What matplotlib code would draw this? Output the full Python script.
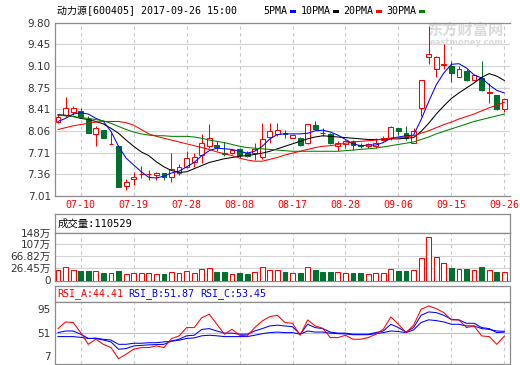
import matplotlib
matplotlib.use('Agg')
import matplotlib.pyplot as plt
from matplotlib.patches import Rectangle
import numpy as np

# ---------------- data ----------------
dates = ['07-05', '07-06', '07-07', '07-10', '07-11', '07-12', '07-13', '07-14', '07-17', '07-18',
         '07-19', '07-20', '07-21', '07-24', '07-25', '07-26', '07-27', '07-28', '07-31',
         '08-01', '08-02', '08-03', '08-04', '08-07', '08-08', '08-09', '08-10', '08-11', '08-14',
         '08-15', '08-16', '08-17', '08-18', '08-21', '08-22', '08-23', '08-24', '08-25', '08-28',
         '08-29', '08-30', '08-31', '09-01', '09-04', '09-05', '09-06', '09-07', '09-08', '09-11',
         '09-12', '09-13', '09-14', '09-15', '09-18', '09-19', '09-20', '09-21', '09-22', '09-25',
         '09-26']

opens = [8.20, 8.31, 8.36, 8.38, 8.25, 8.01, 8.07, 7.84, 7.82, 7.17,
         7.28, 7.36, 7.36, 7.35, 7.38, 7.32, 7.38, 7.48, 7.56, 7.67,
         7.81, 7.83, 7.70, 7.70, 7.76, 7.71, 7.71, 7.63, 7.96, 8.01,
         8.03, 7.95, 7.94, 7.86, 8.15, 8.03, 8.01, 7.81, 7.85, 7.89,
         7.83, 7.82, 7.82, 7.91, 7.94, 8.11, 8.02, 7.87, 8.43, 9.25,
         9.05, 9.12, 9.11, 8.93, 9.03, 8.88, 8.91, 8.67, 8.63, 8.41]
highs = [8.32, 8.60, 8.46, 8.43, 8.29, 8.13, 8.08, 8.02, 7.82, 7.28,
         7.40, 7.50, 7.43, 7.40, 7.38, 7.70, 7.53, 7.74, 7.70, 8.01,
         8.17, 7.90, 7.88, 7.77, 7.78, 7.73, 7.87, 8.19, 8.18, 8.18,
         8.08, 8.00, 7.96, 8.17, 8.21, 8.10, 8.02, 7.89, 7.91, 7.91,
         7.86, 7.87, 7.94, 7.98, 8.14, 8.11, 8.14, 8.10, 8.88, 9.74,
         9.27, 9.45, 9.19, 9.10, 9.05, 8.96, 9.18, 8.83, 8.64, 8.59]
lows = [8.18, 8.28, 8.32, 8.26, 8.02, 7.81, 7.94, 7.84, 7.15, 7.10,
        7.18, 7.30, 7.27, 7.27, 7.26, 7.24, 7.35, 7.46, 7.48, 7.54,
        7.78, 7.74, 7.65, 7.69, 7.62, 7.63, 7.59, 7.60, 7.86, 7.97,
        7.94, 7.94, 7.82, 7.85, 8.08, 7.97, 7.85, 7.73, 7.78, 7.75,
        7.78, 7.78, 7.78, 7.89, 7.91, 7.99, 7.91, 7.86, 8.29, 9.13,
        8.93, 9.05, 8.84, 8.92, 8.86, 8.87, 8.70, 8.51, 8.40, 8.37]
closes = [8.28, 8.43, 8.43, 8.28, 8.03, 8.10, 7.95, 7.85, 7.16, 7.23,
          7.32, 7.37, 7.37, 7.38, 7.32, 7.44, 7.47, 7.62, 7.63, 7.86,
          7.94, 7.80, 7.69, 7.75, 7.67, 7.65, 7.76, 7.93, 8.06, 8.07,
          8.01, 7.99, 7.83, 8.17, 8.09, 8.02, 7.86, 7.86, 7.89, 7.83,
          7.82, 7.85, 7.86, 7.94, 8.12, 8.06, 7.94, 8.05, 8.87, 9.29,
          9.25, 9.13, 8.99, 9.06, 8.88, 8.95, 8.71, 8.68, 8.41, 8.57]

ma5 = [8.21, 8.26, 8.33, 8.35, 8.33, 8.26, 8.21, 8.05, 7.81, 7.62,
       7.51, 7.40, 7.31, 7.30, 7.33, 7.38, 7.41, 7.48, 7.55, 7.66,
       7.74, 7.78, 7.77, 7.76, 7.73, 7.70, 7.73, 7.81, 7.93, 8.00,
       8.01, 8.01, 8.01, 8.02, 8.06, 8.07, 8.04, 7.99, 7.92, 7.85,
       7.82, 7.83, 7.83, 7.87, 7.94, 7.96, 7.98, 7.99, 8.24, 8.53,
       8.80, 8.99, 9.13, 9.14, 9.07, 8.96, 8.91, 8.80, 8.71, 8.67]
ma10 = [8.32, 8.31, 8.29, 8.26, 8.24, 8.21, 8.17, 8.10, 8.02, 7.91,
        7.81, 7.72, 7.66, 7.56, 7.48, 7.42, 7.39, 7.40, 7.45, 7.50,
        7.55, 7.58, 7.61, 7.63, 7.65, 7.66, 7.68, 7.70, 7.73, 7.77,
        7.81, 7.85, 7.89, 7.93, 7.96, 7.98, 7.97, 7.96, 7.95, 7.94,
        7.93, 7.92, 7.92, 7.92, 7.93, 7.93, 7.94, 7.95, 8.05, 8.18,
        8.33, 8.46, 8.58, 8.67, 8.75, 8.83, 8.92, 8.98, 8.94, 8.87]
ma20 = [8.08, 8.11, 8.14, 8.16, 8.18, 8.20, 8.21, 8.21, 8.21, 8.19,
        8.15, 8.08, 8.01, 7.97, 7.94, 7.91, 7.88, 7.85, 7.82, 7.79,
        7.76, 7.72, 7.69, 7.66, 7.62, 7.59, 7.57, 7.57, 7.60, 7.63,
        7.67, 7.70, 7.73, 7.76, 7.79, 7.81, 7.82, 7.84, 7.86, 7.88,
        7.89, 7.90, 7.91, 7.93, 7.94, 7.95, 7.96, 7.98, 8.02, 8.06,
        8.11, 8.16, 8.20, 8.25, 8.29, 8.33, 8.38, 8.43, 8.47, 8.52]
ma30 = [8.31, 8.30, 8.29, 8.27, 8.26, 8.24, 8.22, 8.18, 8.13, 8.08,
        8.04, 8.01, 7.99, 7.98, 7.98, 7.97, 7.97, 7.97, 7.96, 7.94,
        7.91, 7.89, 7.87, 7.84, 7.81, 7.79, 7.78, 7.77, 7.76, 7.75,
        7.74, 7.73, 7.73, 7.73, 7.73, 7.73, 7.73, 7.73, 7.74, 7.75,
        7.76, 7.77, 7.78, 7.80, 7.82, 7.84, 7.86, 7.88, 7.92, 7.96,
        8.01, 8.05, 8.09, 8.13, 8.17, 8.21, 8.24, 8.27, 8.30, 8.33]

# volume in 万
volumes = [18.3, 27.6, 18.3, 14.7, 14.7, 13.6, 8.9, 7.7, 13.6, 4.2,
           7.7, 7.7, 7.7, 4.2, 4.2, 11.2, 8.9, 13.6, 7.7, 20.6,
           24.1, 11.2, 11.2, 4.2, 7.7, 4.2, 10.1, 30.0, 19.4, 17.1,
           11.2, 7.7, 7.7, 27.6, 18.3, 11.2, 11.2, 10.1, 7.7, 7.7,
           7.7, 4.2, 7.7, 7.7, 20.6, 14.7, 14.7, 17.1, 59.2, 132.9,
           62.7, 41.7, 24.1, 20.6, 20.6, 17.1, 27.6, 17.1, 11.2, 11.05]

rsi_a = [58.5, 71.0, 69.8, 51.0, 29.0, 38.5, 29.0, 22.9, 2.2, 10.4,
         19.8, 22.9, 22.9, 26.0, 22.9, 39.8, 44.8, 60.4, 60.4, 79.0,
         85.4, 66.6, 47.9, 57.3, 46.0, 44.8, 60.4, 72.9, 81.0, 83.5,
         69.8, 68.5, 46.0, 74.8, 63.5, 59.1, 41.6, 41.6, 46.0, 38.5,
         38.5, 41.6, 47.9, 57.3, 80.4, 66.6, 51.0, 64.8, 94.8, 101.0,
         96.0, 88.5, 74.8, 74.8, 60.4, 63.5, 44.8, 43.5, 29.0, 44.41]
rsi_b = [51.0, 54.0, 54.0, 48.0, 40.0, 40.0, 37.0, 33.5, 19.8, 21.0,
         26.0, 27.0, 28.0, 28.5, 29.0, 35.0, 38.5, 45.0, 46.0, 57.0,
         58.5, 54.0, 50.0, 50.0, 48.0, 48.0, 54.0, 58.5, 63.5, 65.0,
         63.5, 62.0, 48.0, 66.6, 60.4, 58.5, 52.0, 50.0, 50.0, 48.0,
         48.0, 48.0, 51.0, 54.0, 66.6, 60.4, 52.0, 60.4, 83.5, 89.8,
         88.5, 83.5, 76.0, 74.8, 68.5, 68.5, 60.4, 58.5, 51.0, 51.87]
rsi_c = [43.5, 43.5, 43.5, 42.0, 40.0, 40.5, 38.5, 37.0, 29.0, 29.0,
         31.0, 31.0, 32.0, 32.0, 33.5, 35.0, 36.6, 40.0, 41.0, 45.0,
         46.0, 45.0, 43.5, 43.5, 43.5, 43.5, 46.0, 49.0, 51.0, 52.0,
         51.0, 51.0, 48.0, 54.0, 52.0, 52.0, 50.0, 49.0, 48.5, 47.0,
         47.0, 47.0, 49.0, 51.0, 54.0, 53.0, 51.0, 56.0, 70.0, 75.0,
         73.5, 71.0, 66.6, 66.6, 63.5, 63.5, 58.5, 57.0, 54.0, 53.45]

price_ticks = [7.01, 7.36, 7.71, 8.06, 8.41, 8.75, 9.10, 9.45, 9.80]
price_tick_labels = ['7.01', '7.36', '7.71', '8.06', '8.41', '8.75', '9.10', '9.45', '9.80']
date_tick_labels = ['07-10', '07-19', '07-28', '08-08', '08-17', '08-28', '09-06', '09-15', '09-26']
vol_ticks = [26.45, 66.82, 107.19, 147.56]
vol_tick_labels = ['26.45万', '66.82万', '107万', '148万']
rsi_ticks = [7, 51, 95]

title = '动力源[600405] 2017-09-26 15:00'
vol_title = '成交量:110529'
ma_names = ['5PMA', '10PMA', '20PMA', '30PMA']

# ---------------- style ----------------
W, H = 520, 365
RED = '#ff0000'
GREEN = '#007030'
BLUE = '#0000ff'
MA_COLORS = [BLUE, '#000000', RED, '#008000']
MONO = ['DejaVu Sans Mono', 'Noto Sans CJK SC']
SANS = ['DejaVu Sans', 'Noto Sans CJK SC']
GRID_H = '#d4d4d4'
GRID_V = '#c8c8c8'
FRAME = '#8c8c8c'
LW = 0.75

fig = plt.figure(figsize=(W / 100, H / 100), dpi=100)
fig.patch.set_facecolor('white')


def axes_px(x0, y0, x1, y1):
    return fig.add_axes([x0 / W, 1 - y1 / H, (x1 - x0) / W, (y1 - y0) / H])


x = np.arange(len(dates))
o = np.array(opens); c = np.array(closes)
hi = np.array(highs); lo = np.array(lows)
up = c >= o
cols = np.where(up, RED, GREEN)
faces = np.where(up, 'white', GREEN)
XL = (-0.4, 59.75)
date_tick_pos = [dates.index(d) for d in date_tick_labels]


def style_vgrid(ax):
    for p in date_tick_pos:
        ax.axvline(p, color=GRID_V, lw=0.8, ls=(0, (3, 3)), zorder=0)


# ---------------- main price panel ----------------
ax = axes_px(55, 22.7, 510, 196)
ax.set_xlim(*XL)
ax.set_ylim(7.01, 9.80)
for t in price_ticks:
    ax.axhline(t, color=GRID_H, lw=0.8, zorder=0)
style_vgrid(ax)

ax.text(0.985, 0.955, '东方财富网', transform=ax.transAxes, ha='right', va='center',
        fontsize=11, fontweight='bold', color='#dadada', family=SANS, zorder=1)
ax.text(0.985, 0.885, 'eastmoney.com', transform=ax.transAxes, ha='right', va='center',
        fontsize=6, fontweight='bold', color='#dadada', family=SANS, zorder=1)

ax.vlines(x, lo, hi, colors=cols, lw=LW, zorder=2)
body_lo = np.minimum(o, c)
body_h = np.maximum(np.abs(c - o), 0.006)
ax.bar(x, body_h, bottom=body_lo, width=0.64, color=faces, edgecolor=cols,
       linewidth=LW, zorder=3)
for ma, col in zip([ma5, ma10, ma20, ma30], MA_COLORS):
    ax.plot(x, ma, color=col, lw=LW, zorder=4)

ax.set_yticks(price_ticks)
ax.set_yticklabels(price_tick_labels)
ax.set_xticks(date_tick_pos)
ax.set_xticklabels(date_tick_labels)
ax.tick_params(axis='y', length=0, pad=3, labelsize=7.5, labelcolor='#333333')
ax.tick_params(axis='x', length=0, pad=3, labelsize=7.2, labelcolor=RED)
for lab in ax.get_xticklabels():
    lab.set_family(MONO)
for lab in ax.get_yticklabels():
    lab.set_family(SANS)
ax.spines['right'].set_visible(False)
for s in ['left', 'bottom', 'top']:
    ax.spines[s].set_color(FRAME)
    ax.spines[s].set_linewidth(0.9)

# title row
fig.text(57 / W, 1 - 11 / H, title, ha='left', va='center', fontsize=7.2,
         family=MONO, color='#000000')
ma_x = [263, 301, 343, 386]
dash_x = [290, 333, 376, 419]
for name, tx, dx, col in zip(ma_names, ma_x, dash_x, MA_COLORS):
    fig.text(tx / W, 1 - 11 / H, name, ha='left', va='center', fontsize=7.2,
             family=MONO, color='#000000')
    fig.patches.append(Rectangle((dx / W, 1 - 13 / H), 6 / W, 3 / H,
                                 transform=fig.transFigure, facecolor=col,
                                 edgecolor='none'))

# ---------------- volume panel ----------------
hv = axes_px(55, 214, 510, 232.7)
hv.set_xticks([]); hv.set_yticks([])
for s in hv.spines.values():
    s.set_color(FRAME); s.set_linewidth(0.9)
hv.text(0.006, 0.48, vol_title, transform=hv.transAxes, ha='left', va='center',
        fontsize=7.5, family=MONO, color='#000000')

av = axes_px(55, 232.7, 510, 280.5)
VMIN, VMAX = -17.9, 147.56
av.set_xlim(*XL)
av.set_ylim(VMIN, VMAX)
for t in vol_ticks[:-1]:
    av.axhline(t, color=GRID_H, lw=0.8, zorder=0)
style_vgrid(av)
v = np.array(volumes)
av.bar(x, v - VMIN, bottom=VMIN, width=0.64, color=faces, edgecolor=cols,
       linewidth=LW, zorder=3)
av.set_yticks([VMIN] + vol_ticks)
av.set_yticklabels(['0'] + vol_tick_labels)
av.set_xticks([])
av.tick_params(axis='y', length=0, pad=3, labelsize=7.5, labelcolor='#333333')
for lab in av.get_yticklabels():
    lab.set_family(SANS)
for s in av.spines.values():
    s.set_color(FRAME); s.set_linewidth(0.9)

# ---------------- RSI panel ----------------
hr = axes_px(55, 286, 510, 301.7)
hr.set_xticks([]); hr.set_yticks([])
for s in hr.spines.values():
    s.set_color(FRAME); s.set_linewidth(0.9)
rsi_labels = [('RSI_A:%.2f' % rsi_a[-1], RED, 57),
              ('RSI_B:%.2f' % rsi_b[-1], BLUE, 128),
              ('RSI_C:%.2f' % rsi_c[-1], BLUE, 200)]
for txt, col, px in rsi_labels:
    fig.text(px / W, 1 - 294 / H, txt, ha='left', va='center', fontsize=7.2,
             family=MONO, color=col)

ar = axes_px(55, 301.7, 510, 363.5)
ar.set_xlim(*XL)
ar.set_ylim(-7, 109)
ar.axhline(51, color='#c0c0c0', lw=0.8, zorder=0)
style_vgrid(ar)
ar.plot(x, rsi_c, color=BLUE, lw=LW, zorder=3)
ar.plot(x, rsi_b, color=BLUE, lw=LW, zorder=3)
ar.plot(x, rsi_a, color=RED, lw=LW, zorder=4)
ar.set_yticks(rsi_ticks)
ar.set_yticklabels([str(t) for t in rsi_ticks])
ar.set_xticks([])
ar.tick_params(axis='y', length=0, pad=3, labelsize=7.5, labelcolor='#333333')
for s in ar.spines.values():
    s.set_color(FRAME); s.set_linewidth(0.9)

fig.savefig('out.png', dpi=100, facecolor='white')
